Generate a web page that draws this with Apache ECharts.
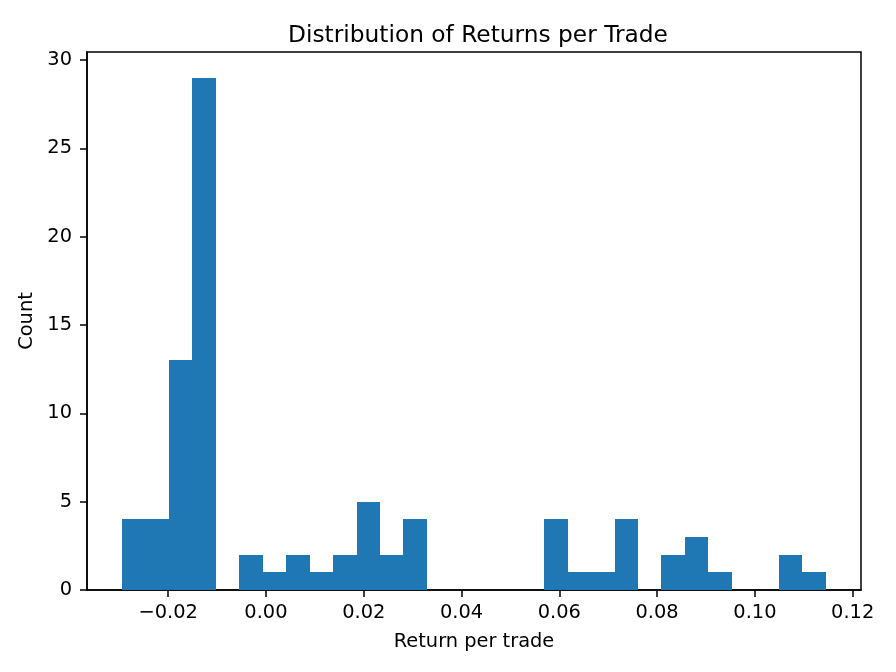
<!DOCTYPE html>
<html>
<head>
<meta charset="utf-8">
<script src="https://cdn.jsdelivr.net/npm/echarts@6/dist/echarts.min.js"></script>
<style>html,body{margin:0;padding:0;background:#fff;}#chart{width:896px;height:672px;}</style>
</head>
<body>
<div id="chart"></div>
<script>
// Histogram bin edges (30 bins) and counts
const binEdges = [-0.02945, -0.024653, -0.019856, -0.015059, -0.010262, -0.005465, -0.000668,
  0.004129, 0.008926, 0.013723, 0.018520, 0.023317, 0.028114, 0.032911, 0.037708, 0.042505,
  0.047302, 0.052099, 0.056896, 0.061693, 0.066490, 0.071287, 0.076084, 0.080881, 0.085678,
  0.090475, 0.095272, 0.100069, 0.104866, 0.109663, 0.114460];
const counts = [4, 4, 13, 29, 0, 2, 1, 2, 1, 2, 5, 2, 4, 0, 0, 0, 0, 0, 4, 1, 1, 4, 0, 2, 3, 1, 0, 0, 2, 1];
const xTicks = [-0.02, 0.00, 0.02, 0.04, 0.06, 0.08, 0.10, 0.12];
const yTicks = [0, 5, 10, 15, 20, 25, 30];
const xRange = [-0.0366, 0.1217];
const yRange = [0, 30.45];
const titleText = 'Distribution of Returns per Trade';
const xLabel = 'Return per trade';
const yLabel = 'Count';

const data = counts.map((c, i) => [binEdges[i], binEdges[i + 1], c]);
const font = 'DejaVu Sans';
const chart = echarts.init(document.getElementById('chart'), null, {renderer: 'canvas'});
chart.setOption({
  animation: false,
  backgroundColor: '#ffffff',
  title: {
    text: titleText,
    left: 473, top: 19, textAlign: 'center',
    textStyle: {fontFamily: font, fontSize: 23.3, fontWeight: 'normal', color: '#000'}
  },
  grid: {left: 87, right: 35, top: 52, bottom: 82, show: true, borderColor: '#000', borderWidth: 1.5, backgroundColor: 'transparent'},
  xAxis: {
    type: 'value', min: xRange[0], max: xRange[1],
    name: xLabel, nameLocation: 'middle', nameGap: 42,
    nameTextStyle: {fontFamily: font, fontSize: 19.4, color: '#000'},
    axisLine: {show: true, onZero: false, lineStyle: {color: '#000', width: 1.5}},
    axisTick: {show: true, length: 7, inside: false, customValues: xTicks, lineStyle: {color: '#000', width: 1.5}},
    axisLabel: {show: true, customValues: xTicks, margin: 13, fontFamily: font, fontSize: 19.4, color: '#000',
      formatter: v => (v < 0 ? '\u2212' : '') + Math.abs(v).toFixed(2)},
    splitLine: {show: false}
  },
  yAxis: {
    type: 'value', min: yRange[0], max: yRange[1],
    name: yLabel, nameLocation: 'middle', nameGap: 48, nameRotate: 90,
    nameTextStyle: {fontFamily: font, fontSize: 19.4, color: '#000'},
    axisLine: {show: true, onZero: false, lineStyle: {color: '#000', width: 1.5}},
    axisTick: {show: true, length: 7, inside: false, customValues: yTicks, lineStyle: {color: '#000', width: 1.5}},
    axisLabel: {show: true, customValues: yTicks, margin: 15, fontFamily: font, fontSize: 19.4, color: '#000'},
    splitLine: {show: false}
  },
  series: [{
    type: 'custom',
    data: data,
    encode: {x: [0, 1], y: 2},
    renderItem: function (params, api) {
      const p0 = api.coord([api.value(0), api.value(2)]);
      const p1 = api.coord([api.value(1), 0]);
      const x0 = Math.round(p0[0]), x1 = Math.round(p1[0]);
      const y0 = Math.round(p0[1]), y1 = Math.round(p1[1]);
      return {
        type: 'rect',
        shape: {x: x0, y: y0, width: x1 - x0, height: y1 - y0},
        style: {fill: '#1f77b4', stroke: null}
      };
    }
  }]
});
</script>
</body>
</html>
